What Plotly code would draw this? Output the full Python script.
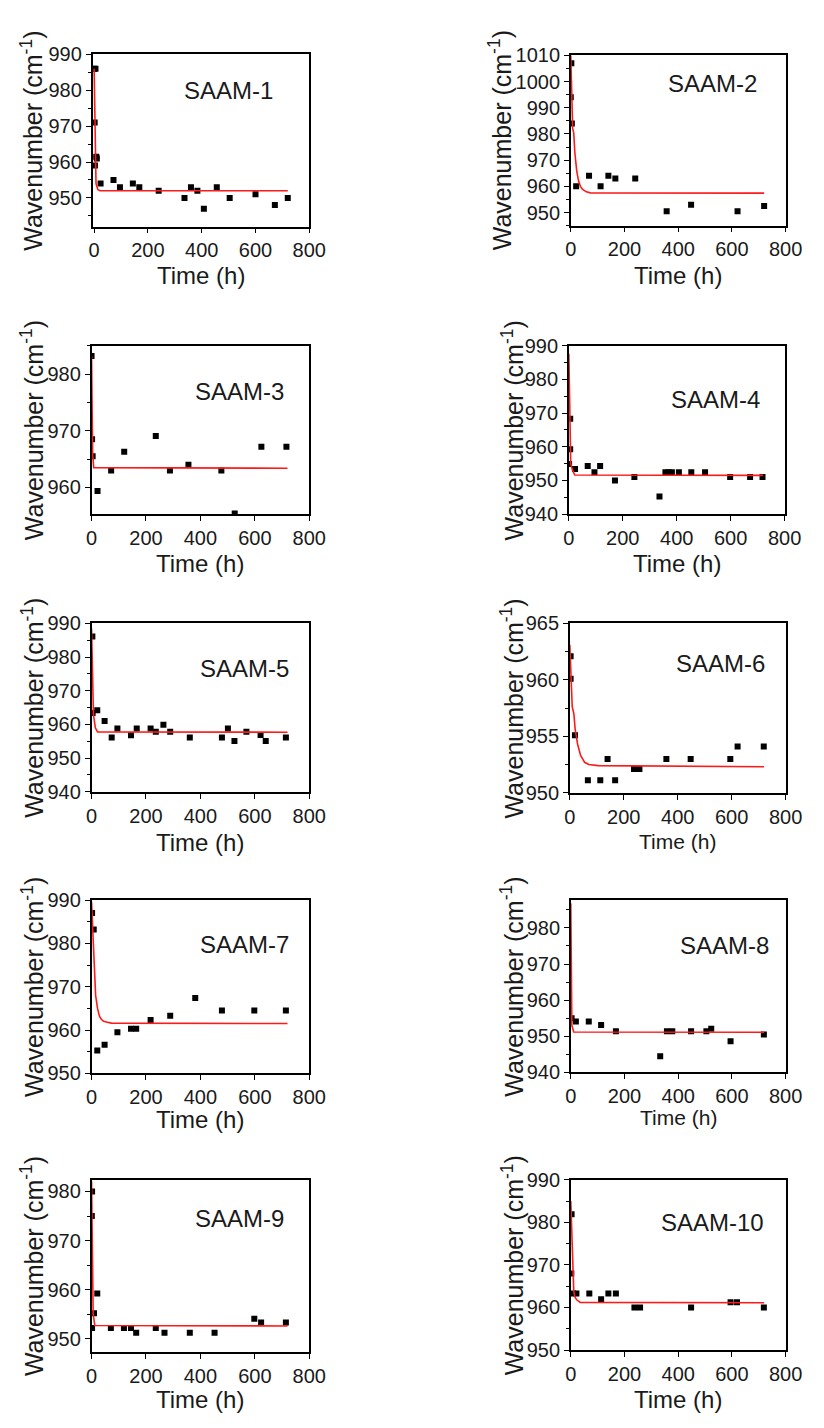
import plotly.graph_objects as go

# ---- measured wavenumber vs. ageing time for each sample ----
samples = ["SAAM-1", "SAAM-2", "SAAM-3", "SAAM-4", "SAAM-5",
           "SAAM-6", "SAAM-7", "SAAM-8", "SAAM-9", "SAAM-10"]

t1 = [0, 5, 2, 8, 10, 3, 24, 72, 96, 144, 168, 240, 336, 360, 384, 408, 456, 504, 600, 672, 720]
w1 = [986, 986, 971, 961.5, 961, 959, 954, 955, 953, 954, 953, 952, 950, 953, 952, 947, 953, 950, 951, 948, 950]

t2 = [2, 0, 4, 20, 68, 111, 140, 166, 240, 357, 448, 621, 720]
w2 = [1007, 994, 984, 960, 964, 960, 964, 963, 963, 950.5, 953, 950.5, 952.5]

t3 = [0, 2, 4, 22, 72, 120, 236, 288, 356, 477, 526, 624, 716]
w3 = [983.2, 968.5, 965.5, 959.4, 963, 966.3, 969.1, 963, 964, 963, 955.4, 967.2, 967.2]

t4 = [5, 5, 1, 23, 70, 95, 116, 171, 243, 336, 358, 370, 382, 408, 454, 505, 598, 672, 718]
w4 = [968.3, 959.3, 954.9, 953.4, 954.3, 952.4, 954.3, 950, 951, 945.2, 952.4, 952.4, 952.4,
      952.4, 952.4, 952.4, 951, 951, 951]

t5 = [3, 4, 21, 48, 74, 95, 145, 166, 217, 236, 264, 289, 361, 479, 501, 525, 569, 621, 640, 714]
w5 = [986.1, 963.4, 964.2, 961, 956.1, 958.8, 956.8, 958.8, 958.8, 957.8, 959.9, 957.8,
      956.1, 956.1, 958.8, 955.1, 957.8, 956.9, 955.1, 956.1]

t6 = [3, 3, 19, 67, 113, 140, 168, 238, 258, 358, 448, 595, 622, 719]
w6 = [962.1, 960.1, 955.1, 951.1, 951.1, 953, 951.1, 952.1, 952.1, 953, 953, 953, 954.1, 954.1]

t7 = [2, 8, 21, 48, 95, 145, 164, 217, 289, 381, 479, 598, 714]
w7 = [987, 983.2, 955.3, 956.6, 959.5, 960.3, 960.3, 962.3, 963.3, 967.4, 964.5, 964.5, 964.5]

t8 = [3, 19, 67, 113, 168, 333, 358, 378, 448, 505, 523, 595, 719]
w8 = [955, 954.1, 954.1, 953.1, 951.4, 944.5, 951.4, 951.4, 951.4, 951.4, 952.1, 948.6, 950.5]

t9 = [2, 1, 2, 9, 21, 71, 119, 145, 164, 236, 268, 361, 452, 598, 623, 714]
w9 = [980, 975, 952.2, 955.2, 959.2, 952.2, 952.2, 952.2, 951.2, 952.2, 951.2, 951.2, 951.2,
      954.1, 953.3, 953.3]

t10 = [3, 2, 8, 21, 69, 113, 140, 168, 237, 258, 448, 595, 619, 719]
w10 = [981.9, 968, 963.3, 963.3, 963.3, 961.9, 963.3, 963.3, 960, 960, 960, 961.2, 961.2, 960]

# ---- exponential-decay fit curves (sampled points) ----
ft1 = [0, 7, 14, 22, 720]
fw1 = [986, 954, 952.3, 952, 952]

ft2 = [0, 4, 7, 11, 15, 22, 29, 36, 44, 58, 73, 720]
fw2 = [1010, 995, 982, 980.5, 973, 966, 962, 960, 958.8, 957.9, 957.5, 957.4]

ft3 = [0, 4, 8, 720]
fw3 = [983.2, 966, 963.5, 963.4]

ft4 = [0, 7, 14, 22, 720]
fw4 = [987.6, 955, 953, 951.6, 951.5]

ft5 = [0, 7, 14, 22, 720]
fw5 = [988.5, 963, 959, 957.8, 957.7]

ft6 = [0, 5, 9, 15, 20, 29, 40, 55, 70, 105, 720]
fw6 = [963.1, 960, 957.6, 957.0, 955.6, 954.3, 953.3, 952.7, 952.5, 952.4, 952.3]

ft7 = [0, 3, 7, 10, 15, 22, 29, 36, 44, 58, 73, 720]
fw7 = [989.6, 985, 976, 973.5, 968, 965, 963.2, 962.5, 962.0, 961.8, 961.6, 961.5]

ft8 = [0, 4, 11, 720]
fw8 = [986.8, 953, 951.2, 951.1]

ft9 = [0, 6, 12, 720]
fw9 = [982.1, 955, 952.7, 952.6]

ft10 = [0, 4, 8, 11, 15, 22, 35, 720]
fw10 = [985, 975, 970, 964, 962.5, 961.8, 961.2, 961.1]

data_t = [t1, t2, t3, t4, t5, t6, t7, t8, t9, t10]
data_w = [w1, w2, w3, w4, w5, w6, w7, w8, w9, w10]
fit_t = [ft1, ft2, ft3, ft4, ft5, ft6, ft7, ft8, ft9, ft10]
fit_w = [fw1, fw2, fw3, fw4, fw5, fw6, fw7, fw8, fw9, fw10]

# axis ranges and major tick spacing per panel
x_ranges = [[-6, 800]] + [[0, 800]] * 9
y_ranges = [[942, 990], [945, 1010], [955.3, 985], [940, 990], [940, 990],
            [950, 965], [950, 990], [940, 987.7], [947.3, 982.4], [950, 990]]
y_dticks = [10, 10, 10, 10, 10, 5, 10, 10, 10, 10]

# ---- page geometry (pixels) ----
W, H = 824, 1428
# plot boxes: (left, right, top, bottom)
boxes = [(89, 312, 44, 219), (581, 802, 45, 218),
         (88, 312, 340, 511), (579, 801, 340, 511),
         (88, 312, 622, 793), (580, 802, 622, 794),
         (88, 312, 903, 1079), (581, 802, 903, 1078),
         (88, 312, 1187, 1362), (581, 802, 1187, 1360)]
label_pos = [(277, 80.5), (775, 74), (288, 386), (778, 395), (293, 667.5),
             (783, 662.5), (293, 948.5), (787, 949.5), (288, 1226), (782, 1230)]
ytitle_x = [27, 509, 27, 521, 27, 521, 27, 521, 27, 521]
xtitle_y = [269, 269, 561, 561, 845, 844, 1126, 1124, 1410, 1410]
xtitle_size = [24, 24, 24, 24, 24, 21, 24, 21, 24, 24]

FONT = "Liberation Sans, Arial, sans-serif"
INK = "#1a1a1a"

fig = go.Figure()
annotations = []
layout_axes = {}

for i in range(10):
    n = i + 1
    xa = "x" if n == 1 else f"x{n}"
    ya = "y" if n == 1 else f"y{n}"
    l, r, t, b = boxes[i]

    fig.add_trace(go.Scatter(
        x=data_t[i], y=data_w[i], mode="markers", xaxis=xa, yaxis=ya,
        marker=dict(symbol="square", size=6, color="black", line=dict(width=0)),
        showlegend=False))
    fig.add_trace(go.Scatter(
        x=fit_t[i], y=fit_w[i], mode="lines", xaxis=xa, yaxis=ya,
        line=dict(color="#ff1a1a", width=1.6), showlegend=False))

    axis_common = dict(
        showline=True, linecolor="black", linewidth=1.5, mirror=True,
        showgrid=False, zeroline=False, ticks="outside", ticklen=5,
        tickwidth=1.3, tickcolor="black",
        tickfont=dict(family=FONT, size=20, color=INK))
    layout_axes["xaxis" if n == 1 else f"xaxis{n}"] = dict(
        axis_common, domain=[l / W, r / W], anchor=ya,
        range=x_ranges[i], tick0=0, dtick=200)
    layout_axes["yaxis" if n == 1 else f"yaxis{n}"] = dict(
        axis_common, domain=[1 - b / H, 1 - t / H], anchor=xa,
        range=y_ranges[i], tick0=0, dtick=y_dticks[i],
        minor=dict(ticks="outside", ticklen=3, tickwidth=1.2,
                   tickcolor="black", dtick=y_dticks[i] / 2, showgrid=False))

    # sample name inside the plot box
    lx, ly = label_pos[i]
    annotations.append(dict(
        text=samples[i], xref="paper", yref="paper", x=lx / W, y=1 - ly / H,
        xanchor="right", yanchor="middle", showarrow=False,
        font=dict(family=FONT, size=24, color=INK)))
    # y-axis title
    annotations.append(dict(
        text="Wavenumber (cm<sup>-1</sup>)", xref="paper", yref="paper",
        x=ytitle_x[i] / W, y=1 - (t + b) / 2 / H, textangle=-90,
        xanchor="center", yanchor="middle", showarrow=False,
        font=dict(family=FONT, size=25, color=INK)))
    # x-axis title
    annotations.append(dict(
        text="Time (h)", xref="paper", yref="paper",
        x=(l + r) / 2 / W, y=1 - xtitle_y[i] / H,
        xanchor="center", yanchor="middle", showarrow=False,
        font=dict(family=FONT, size=xtitle_size[i], color=INK)))

fig.update_layout(
    width=W, height=H, margin=dict(l=0, r=0, t=0, b=0),
    paper_bgcolor="white", plot_bgcolor="white",
    annotations=annotations, **layout_axes)

fig.write_html("out.html")
